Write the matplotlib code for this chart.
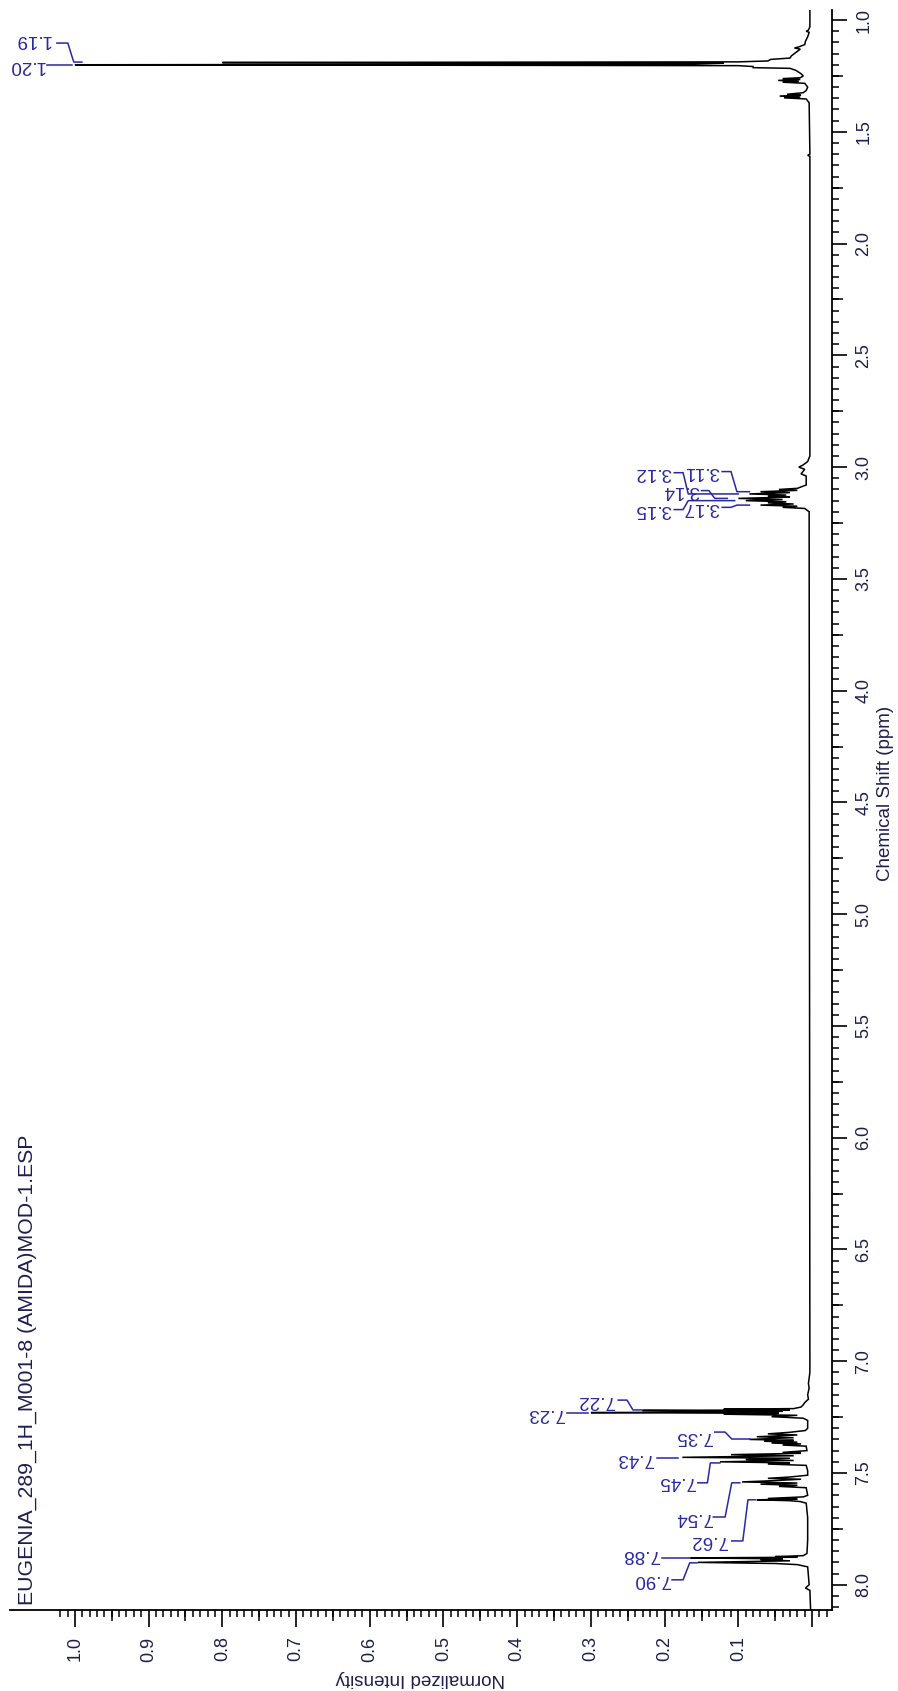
import numpy as np
import matplotlib
matplotlib.use("Agg")
import matplotlib.pyplot as plt
from matplotlib.ticker import FixedLocator, MultipleLocator

plt.rcParams['font.family'] = ['Liberation Sans', 'DejaVu Sans']

# ---------------- data ----------------
title = "EUGENIA_289_1H_M001-8 (AMIDA)MOD-1.ESP"
x_label = "Chemical Shift (ppm)"
y_label = "Normalized Intensity"

# spectrum vertices (chemical shift, normalized intensity)
shift_ppm = [0.955, 1.000, 1.030, 1.045, 1.050, 1.055, 1.075, 1.095, 1.110, 1.120,
             1.125, 1.130, 1.145, 1.160, 1.170, 1.176, 1.183, 1.187, 1.190, 1.193,
             1.197, 1.200, 1.204, 1.208, 1.213, 1.216, 1.225, 1.240, 1.250, 1.258,
             1.262, 1.266, 1.270, 1.274, 1.278, 1.283, 1.300, 1.315, 1.325, 1.332,
             1.336, 1.340, 1.344, 1.348, 1.353, 1.370, 1.600, 1.605, 1.610, 2.950,
             2.975, 2.990, 3.000, 3.010, 3.030, 3.040, 3.080, 3.095, 3.100, 3.104,
             3.110, 3.114, 3.120, 3.125, 3.130, 3.134, 3.140, 3.145, 3.150, 3.155,
             3.160, 3.165, 3.170, 3.175, 3.180, 3.185, 3.200, 7.050, 7.100, 7.120,
             7.150, 7.170, 7.185, 7.195, 7.205, 7.212, 7.215, 7.218, 7.220, 7.224,
             7.227, 7.230, 7.233, 7.237, 7.242, 7.248, 7.255, 7.265, 7.300, 7.310,
             7.318, 7.325, 7.330, 7.338, 7.342, 7.350, 7.354, 7.358, 7.362, 7.366,
             7.370, 7.375, 7.380, 7.400, 7.408, 7.412, 7.418, 7.423, 7.430, 7.434,
             7.440, 7.444, 7.450, 7.455, 7.460, 7.466, 7.490, 7.510, 7.518, 7.524,
             7.528, 7.534, 7.540, 7.545, 7.550, 7.555, 7.560, 7.566, 7.600, 7.607,
             7.614, 7.617, 7.620, 7.624, 7.628, 7.635, 7.700, 7.800, 7.860, 7.870,
             7.874, 7.877, 7.880, 7.884, 7.888, 7.893, 7.900, 7.905, 7.910, 7.920,
             8.000, 8.015, 8.025, 8.113]
intensity = [0.003, 0.003, 0.003, 0.005, 0.008, 0.004, 0.006, 0.009, 0.010, 0.018,
             0.024, 0.016, 0.022, 0.028, 0.030, 0.056, 0.060, 0.100, 0.800, 0.120,
             0.160, 1.000, 0.100, 0.080, 0.080, 0.030, 0.022, 0.015, 0.012, 0.016,
             0.040, 0.016, 0.046, 0.018, 0.040, 0.010, 0.006, 0.008, 0.012, 0.034,
             0.015, 0.044, 0.016, 0.038, 0.008, 0.004, 0.003, 0.006, 0.003, 0.003,
             0.006, 0.012, 0.018, 0.010, 0.015, 0.008, 0.008, 0.020, 0.045, 0.020,
             0.070, 0.030, 0.085, 0.035, 0.060, 0.030, 0.100, 0.040, 0.090, 0.035,
             0.060, 0.025, 0.070, 0.020, 0.040, 0.010, 0.004, 0.003, 0.005, 0.004,
             0.006, 0.005, 0.010, 0.012, 0.015, 0.025, 0.120, 0.030, 0.230, 0.040,
             0.130, 0.300, 0.045, 0.120, 0.020, 0.055, 0.012, 0.006, 0.006, 0.009,
             0.030, 0.060, 0.020, 0.075, 0.025, 0.085, 0.025, 0.065, 0.020, 0.055,
             0.015, 0.040, 0.008, 0.007, 0.040, 0.015, 0.110, 0.025, 0.176, 0.030,
             0.090, 0.025, 0.125, 0.030, 0.060, 0.008, 0.006, 0.006, 0.030, 0.060,
             0.015, 0.050, 0.095, 0.020, 0.070, 0.020, 0.045, 0.008, 0.006, 0.012,
             0.060, 0.020, 0.075, 0.030, 0.016, 0.008, 0.006, 0.006, 0.007, 0.012,
             0.050, 0.020, 0.165, 0.040, 0.070, 0.030, 0.155, 0.050, 0.020, 0.006,
             0.004, 0.009, 0.003, 0.002]

# peak labels
peak_labels = ["1.19", "1.20", "3.11", "3.12", "3.14", "3.15", "3.17",
               "7.22", "7.23", "7.35", "7.43", "7.45", "7.54", "7.62", "7.88", "7.90"]
peak_shift = [1.19, 1.20, 3.11, 3.12, 3.14, 3.15, 3.17,
              7.22, 7.23, 7.35, 7.43, 7.45, 7.54, 7.62, 7.88, 7.90]

# axis ticks
shift_ticks = [1.0, 1.5, 2.0, 2.5, 3.0, 3.5, 4.0, 4.5, 5.0, 5.5, 6.0, 6.5, 7.0, 7.5, 8.0]
int_ticks = [0.0, 0.1, 0.2, 0.3, 0.4, 0.5, 0.6, 0.7, 0.8, 0.9, 1.0]
int_tick_labels = ["", "0.1", "0.2", "0.3", "0.4", "0.5", "0.6", "0.7", "0.8", "0.9", "1.0"]

# ---------------- layout ----------------
W, H = 898, 1691
fig = plt.figure(figsize=(W / 100, H / 100), dpi=100)
ax_l, ax_r, ax_t, ax_b = 10, 832, 10, 1610
ax = fig.add_axes([ax_l / W, 1 - ax_b / H, (ax_r - ax_l) / W, (ax_b - ax_t) / H])

TXT = '#1e1e4e'
LAB = '#2828a0'

ax.plot(intensity, shift_ppm, color='black', lw=1.1, solid_joinstyle='miter')
ax.set_xlim(1.088, -0.027)
ax.set_ylim(8.113, 0.955)

for s in ['left', 'top']:
    ax.spines[s].set_visible(False)
for s in ['bottom', 'right']:
    ax.spines[s].set_linewidth(1.3)

# chemical shift axis (right)
ax.yaxis.tick_right()
ax.set_yticks(shift_ticks)
ax.set_yticklabels([f"{t:.1f}" for t in shift_ticks], rotation=90, va='center')
ax.yaxis.set_minor_locator(MultipleLocator(0.05))
ax.tick_params(axis='y', which='major', length=11, width=1.2, pad=6,
               labelsize=13, labelcolor=TXT, direction='out')
ax.tick_params(axis='y', which='minor', length=5, width=1.1, direction='out')
sy = ax.secondary_yaxis('right')
sy.set_yticks(np.arange(1.25, 8.0, 0.5))
sy.tick_params(length=8, width=1.1, labelright=False, direction='out')
sy.spines['right'].set_visible(False)

# intensity axis (bottom)
ax.set_xticks(int_ticks)
ax.set_xticklabels(int_tick_labels, rotation=90, va='top', ha='center')
minor_int = [round(v, 2) for v in np.arange(-0.02, 1.021, 0.01)]
ax.xaxis.set_minor_locator(FixedLocator(minor_int))
ax.tick_params(axis='x', which='major', length=12, width=1.2, pad=7,
               labelsize=13, labelcolor=TXT, direction='out')
ax.tick_params(axis='x', which='minor', length=5, width=1.1, direction='out')
sx = ax.secondary_xaxis('bottom')
sx.set_xticks(np.arange(0.05, 1.0, 0.1))
sx.tick_params(length=8, width=1.1, labelbottom=False, direction='out')
sx.spines['bottom'].set_visible(False)

# axis labels
ax.text(1.0645, 0.5106, x_label, transform=ax.transAxes, rotation=90,
        ha='center', va='center', fontsize=13.5, color=TXT)
ax.text(0.499, -0.0425, y_label, transform=ax.transAxes, rotation=180,
        ha='center', va='center', fontsize=13.5, color=TXT)

# title
ax.text(0.0207, 0.003, title, transform=ax.transAxes, rotation=90,
        rotation_mode='anchor', ha='left', va='center', fontsize=15.3, color=TXT)

# peak labels: text position (intensity, shift) and leader path
label_pos = {
    "1.19": (1.058, 1.087), "1.20": (1.066, 1.203),
    "3.11": (0.150, 3.020), "3.12": (0.215, 3.025), "3.14": (0.178, 3.105),
    "3.15": (0.215, 3.190), "3.17": (0.150, 3.180),
    "7.22": (0.293, 7.174), "7.23": (0.362, 7.236), "7.35": (0.161, 7.339),
    "7.43": (0.240, 7.437), "7.45": (0.183, 7.540), "7.54": (0.161, 7.701),
    "7.62": (0.141, 7.804), "7.88": (0.233, 7.866), "7.90": (0.218, 7.978),
}
leaders = {
    "1.19": [(1.0244, 1.103), (1.0095, 1.103), (1.0041, 1.161), (1.0014, 1.188), (0.9905, 1.188)],
    "1.20": [(1.038, 1.201), (1.004, 1.201)],
    "3.11": [(0.122, 3.020), (0.110, 3.020), (0.102, 3.110), (0.085, 3.110)],
    "3.12": [(0.187, 3.025), (0.175, 3.025), (0.168, 3.120), (0.100, 3.120)],
    "3.14": [(0.150, 3.105), (0.140, 3.105), (0.132, 3.140), (0.115, 3.140)],
    "3.15": [(0.187, 3.190), (0.175, 3.190), (0.168, 3.150), (0.105, 3.150)],
    "3.17": [(0.122, 3.180), (0.110, 3.180), (0.102, 3.170), (0.085, 3.170)],
    "7.22": [(0.263, 7.174), (0.251, 7.174), (0.243, 7.218), (0.231, 7.218)],
    "7.23": [(0.332, 7.232), (0.304, 7.232)],
    "7.35": [(0.132, 7.317), (0.118, 7.317), (0.109, 7.348), (0.084, 7.348)],
    "7.43": [(0.210, 7.433), (0.182, 7.433)],
    "7.45": [(0.155, 7.544), (0.142, 7.544), (0.138, 7.455), (0.125, 7.455)],
    "7.54": [(0.134, 7.697), (0.118, 7.697), (0.109, 7.544), (0.098, 7.544)],
    "7.62": [(0.109, 7.804), (0.094, 7.804), (0.087, 7.620), (0.077, 7.620)],
    "7.88": [(0.204, 7.880), (0.166, 7.880)],
    "7.90": [(0.190, 7.978), (0.175, 7.978), (0.166, 7.902), (0.156, 7.902)],
}
for lab in peak_labels:
    lx, ly = label_pos[lab]
    ax.text(lx, ly, lab, rotation=180, ha='center', va='center',
            fontsize=13.5, color=LAB)
    pts = leaders[lab]
    ax.plot([p[0] for p in pts], [p[1] for p in pts], color=LAB, lw=1.1)

fig.savefig("out.png", dpi=100)
